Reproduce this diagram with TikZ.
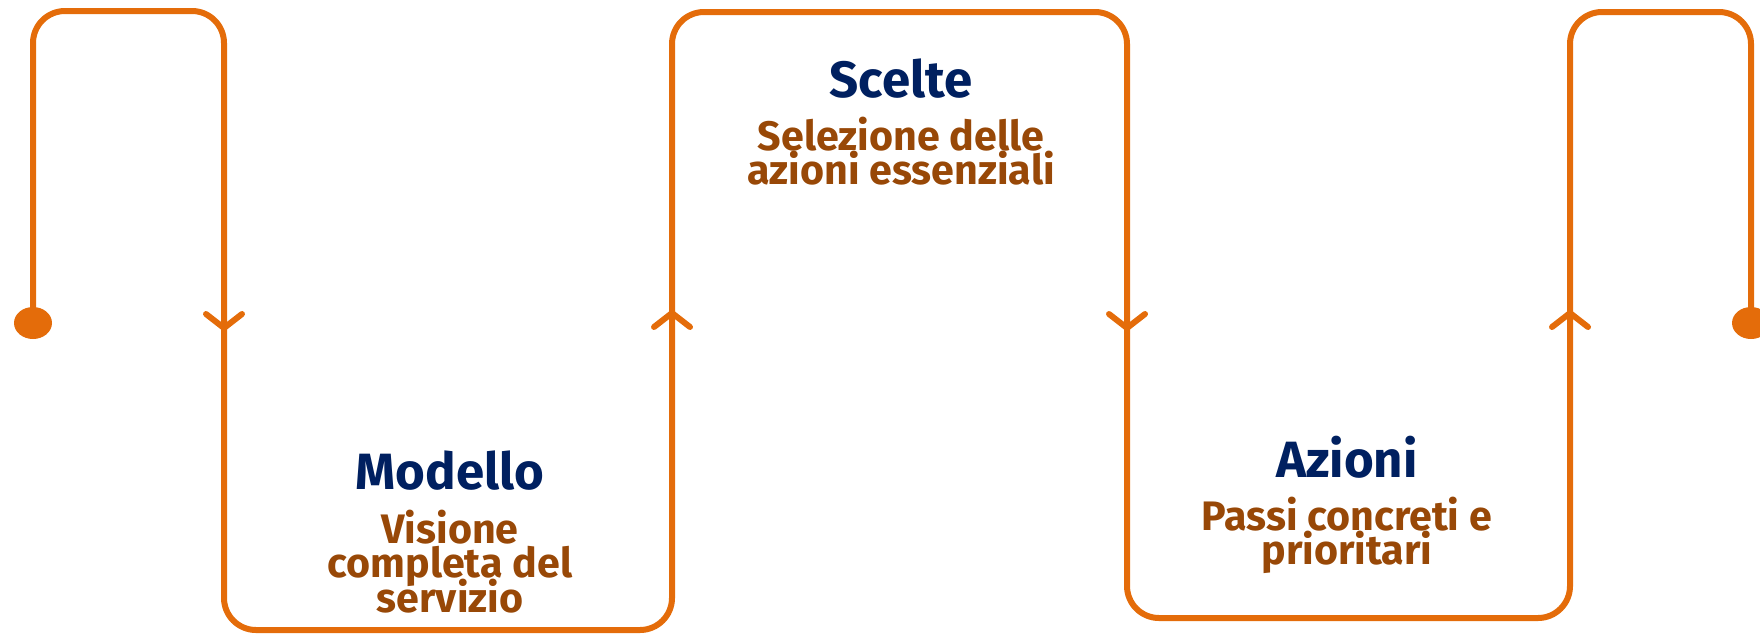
\documentclass[tikz,border=0pt]{standalone}
\usepackage{fontspec}
\setmainfont{Fira Sans}
\usepackage{xcolor}
\usetikzlibrary{positioning}

\definecolor{lineorange}{HTML}{E46C0A}
\definecolor{titlenavy}{HTML}{002060}
\definecolor{subbrown}{HTML}{984807}

% lines of a subtitle, baseline at the first line
\newcommand\sublines[1]{\parbox[t]{8cm}{\centering\fontsize{20.6}{17.3}\selectfont\bfseries\lineskiplimit=-30pt #1}}

\tikzset{
  flow/.style={draw=lineorange, line width=3pt, line cap=round, line join=round},
  title/.style={text=titlenavy, font=\fontsize{25.5}{28}\selectfont\bfseries, anchor=base, inner sep=0pt},
  subtitle/.style={text=subbrown, anchor=base, inner sep=0pt}
}

\begin{document}
\begin{tikzpicture}[x=0.5pt, y=-0.5pt]
  \useasboundingbox (0,0) rectangle (1760,633);
  % ends of the meander
  \coordinate (start) at (33,323);
  \coordinate (stop) at (1751,323);
  \draw[flow, rounded corners=16pt] (start) -- (33,11) -- (224,11) -- (224,630)
    -- (672,630) -- (672,12) -- (1127,12) -- (1127,618)
    -- (1570,618) -- (1570,12) -- (1751,12) -- (stop);
  \fill[lineorange] (start) ellipse [x radius=9.5pt, y radius=8pt];
  \fill[lineorange] (stop) ellipse [x radius=9.5pt, y radius=8pt];
  % direction marks
  \foreach \x/\y/\d in {224/328/-1, 672/313/1, 1127/328/-1, 1570/313/1}
    \draw[flow] (\x-18,\y+14*\d) -- (\x,\y) -- (\x+18,\y+14*\d);
  % labels
  \node[title] (modello) at (450,489) {Modello};
  \node[subtitle] (modelloSub) at (450,543) {\sublines{Visione\\completa del\\servizio}};
  \node[title] (scelte) at (901,97) {Scelte};
  \node[subtitle] (scelteSub) at (901,150) {\sublines{Selezione delle\\azioni essenziali}};
  \node[title] (azioni) at (1347,477) {Azioni};
  \node[subtitle] (azioniSub) at (1347,530) {\sublines{Passi concreti e\\prioritari}};
\end{tikzpicture}
\end{document}
